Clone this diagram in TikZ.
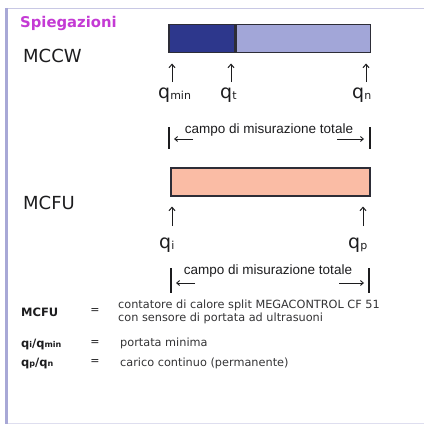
\documentclass[tikz,border=0pt]{standalone}
\usepackage{fontspec}
\setmainfont{DejaVu Sans}
\newfontfamily\narrowfont{Liberation Sans}
\usepackage{tikz}
\usetikzlibrary{arrows.meta}

\definecolor{framelilac}{RGB}{200,200,228}
\definecolor{frameside}{RGB}{168,168,214}
\definecolor{titlemag}{RGB}{196,58,212}
\definecolor{txtgray}{RGB}{28,28,30}
\definecolor{barline}{RGB}{45,45,55}
\definecolor{mcdark}{RGB}{45,55,140}
\definecolor{mclight}{RGB}{162,166,216}
\definecolor{fusalmon}{RGB}{250,188,165}

\newcommand{\qbig}[1]{q\raisebox{-1pt}{\fontsize{11}{11}\selectfont #1}}
\newcommand{\qsmall}[1]{q\raisebox{-0.5pt}{\fontsize{8}{8}\selectfont #1}}

\begin{document}
\begin{tikzpicture}[x=1pt,y=-1pt,
  bar/.style={draw=barline,line width=1.5pt,inner sep=0,anchor=north west,minimum height=28pt},
  head/.style={font=\fontsize{18}{18}\selectfont,text=txtgray,inner sep=0,anchor=base west},
  qlab/.style={font=\fontsize{19}{19}\selectfont,text=txtgray,inner sep=0,anchor=base west},
  uparr/.style={draw=txtgray,line width=1pt,shorten >=10pt,-{Straight Barb[length=3.5pt,width=6pt]}},
  rangetxt/.style={font=\narrowfont\fontsize{13.5}{13.5}\selectfont,text=txtgray,inner sep=0,anchor=base},
  rangebar/.style={draw=txtgray,line width=1.1pt},
  rangearr/.style={draw=txtgray,line width=0.9pt,-{Straight Barb[length=3pt,width=5pt]}},
  key/.style={font=\bfseries\fontsize{11.5}{11.5}\selectfont,text=txtgray,inner sep=0,anchor=base west},
  expl/.style={font=\fontsize{11.3}{11.3}\selectfont,text=txtgray!90,inner sep=0,anchor=base west},
  eqs/.style={font=\fontsize{11}{11}\selectfont,text=txtgray,inner sep=0}
]
\useasboundingbox (0,0) rectangle (424,425);

% frame
\draw[framelilac,line width=1.5pt] (6,8.5) -- (424,8.5);
\draw[framelilac!60,line width=1pt] (6,423) -- (424,423);
\draw[frameside,line width=2.5pt] (6.5,8) -- (6.5,424);

\node[font=\bfseries\fontsize{14.8}{14.8}\selectfont,text=titlemag,inner sep=0,anchor=base west] (title) at (20,28) {Spiegazioni};

% MCCW
\node[head] (mccw) at (23,63) {MCCW};
\node[bar,fill=mcdark,minimum width=66pt] (lo) at (168,24) {};
\node[bar,fill=mclight,minimum width=134pt] (hi) at (lo.north east) {};
\coordinate (xmin) at (172,0);
\coordinate (xt) at (231,0);
\coordinate (xn) at (366,0);
\node[qlab] (qmin) at (158,99) {\qbig{min}};
\node[qlab] (qt) at (220,99) {\qbig{t}};
\node[qlab] (qn) at (352,99) {\qbig{n}};
\draw[uparr,shorten <=6pt] (qmin.north -| xmin) -- (lo.south -| xmin);
\draw[uparr,shorten <=6pt] (qt.north -| xt) -- (lo.south -| xt);
\draw[uparr,shorten <=6pt] (qn.north -| xn) -- (hi.south -| xn);

\node[rangetxt] (rng1) at (269,133) {campo di misurazione totale};
\coordinate (r1l) at (169,138);
\coordinate (r1r) at (370,138);
\draw[rangebar] ([yshift=11pt]r1l) -- ([yshift=-11pt]r1l);
\draw[rangebar] ([yshift=11pt]r1r) -- ([yshift=-11pt]r1r);
\draw[rangearr] ([xshift=24pt,yshift=-1pt]r1l) -- ([xshift=5pt,yshift=-1pt]r1l);
\draw[rangearr] ([xshift=-33pt,yshift=-1pt]r1r) -- ([xshift=-6pt,yshift=-1pt]r1r);

% MCFU
\node[head] (mcfu) at (23,209) {MCFU};
\node[bar,fill=fusalmon,minimum width=199pt] (fu) at (170,167) {};
\coordinate (xi) at (172,0);
\coordinate (xp) at (363,0);
\node[qlab] (qi) at (159,248) {\qbig{i}};
\node[qlab] (qp) at (348,248) {\qbig{p}};
\draw[uparr,shorten <=11pt] (qi.north -| xi) -- (fu.south -| xi);
\draw[uparr,shorten <=11pt] (qp.north -| xp) -- (fu.south -| xp);

\node[rangetxt] (rng2) at (268,274) {campo di misurazione totale};
\coordinate (r2l) at (171,281);
\coordinate (r2r) at (369,281);
\draw[rangebar] ([yshift=13pt]r2l) -- ([yshift=-12pt]r2l);
\draw[rangebar] ([yshift=13pt]r2r) -- ([yshift=-12pt]r2r);
\draw[rangearr] ([xshift=24pt,yshift=-2pt]r2l) -- ([xshift=5pt,yshift=-2pt]r2l);
\draw[rangearr] ([xshift=-30pt,yshift=-2pt]r2r) -- ([xshift=-5pt,yshift=-2pt]r2r);

% legend
\node[key] (kmcfu) at (21,316) {MCFU};
\node[eqs] (e1) at (95,311) {=};
\node[expl] (d1a) at (118,308) {contatore di calore split MEGACONTROL CF 51};
\node[expl] (d1b) at (118,321) {con sensore di portata ad ultrasuoni};

\node[key] (kqi) at (21,347) {\qsmall{i}/\qsmall{min}};
\node[eqs] (e2) at (95,343) {=};
\node[expl] (d2) at (120,346) {portata minima};

\node[key] (kqp) at (21,366) {\qsmall{p}/\qsmall{n}};
\node[eqs] (e3) at (95,362) {=};
\node[expl] (d3) at (120,366) {carico continuo (permanente)};
\end{tikzpicture}
\end{document}
